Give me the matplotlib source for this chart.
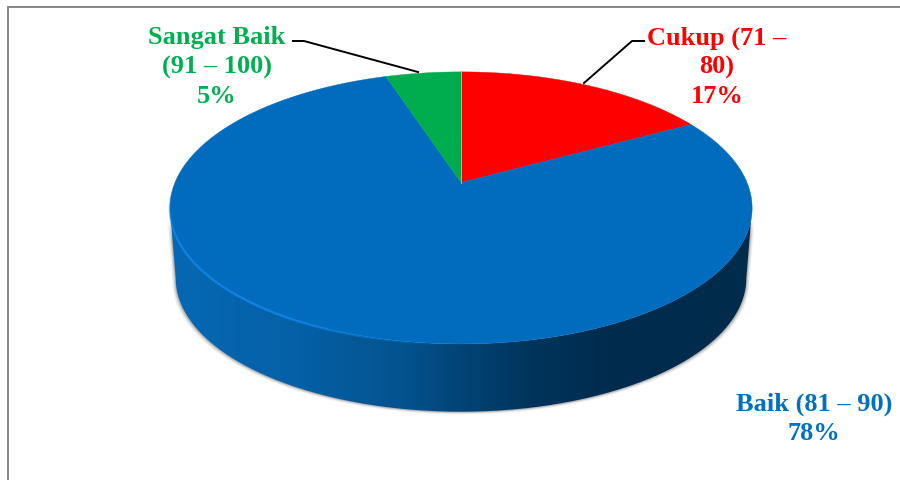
import numpy as np
import matplotlib
matplotlib.use("Agg")
import matplotlib.pyplot as plt
from matplotlib.colors import LinearSegmentedColormap
from matplotlib.patches import PathPatch, Polygon
from matplotlib.path import Path
from matplotlib.collections import LineCollection

# Share of each grade, clockwise from twelve o'clock
categories = ["Cukup (71 –\n80)", "Baik (81 – 90)", "Sangat Baik\n(91 – 100)"]
percent = [17, 78, 5]
slice_colors = ["#FF0000", "#016CBD", "#00AD4E"]
label_colors = ["#FF0000", "#0070C0", "#00B050"]

W, H = 900, 481
fig = plt.figure(figsize=(W / 100, H / 100), dpi=100, facecolor="white")
ax = fig.add_axes([0, 0, 1, 1])
ax.set_xlim(0, W)
ax.set_ylim(H, 0)
ax.axis("off")

# Perspective view of the pie's disc, in pixel space
CX, CY_APEX = 461.0, 183.5
PERSP = 0.1868
SCALE_X = 286.0
SCALE_Y = -97.0
RIM_MID_Y = 209.0
WALL_SHRINK = 0.98
WALL_DROP = 70.5


def top_rim(theta_deg):
    t = np.radians(theta_deg)
    u, v = np.sin(t), np.cos(t)
    d = 1 + PERSP * v
    return CX + SCALE_X * u / d, (CY_APEX + SCALE_Y * v) / d


def bottom_rim(theta_deg):
    x, y = top_rim(theta_deg)
    return CX + WALL_SHRINK * (x - CX), RIM_MID_Y + WALL_SHRINK * (y - RIM_MID_Y) + WALL_DROP


# Wall outline between the widest points of the disc
sweep_all = np.linspace(0, 360, 1441)
rim_x = top_rim(sweep_all)[0]
right_edge = sweep_all[np.argmax(rim_x)]
left_edge = sweep_all[np.argmin(rim_x)]
front = np.linspace(right_edge, left_edge, 300)
bx, by = bottom_rim(front)
tx, ty = top_rim(front)
wall_xy = np.r_[np.c_[bx, by], np.c_[tx, ty][::-1]]

# Drop shadow under the wall
for grow, alpha in [(3.5, 0.05), (2.6, 0.08), (1.8, 0.12), (1.0, 0.2)]:
    shadow = wall_xy + np.array([0, grow * 0.8])
    shadow[:, 0] = CX + (shadow[:, 0] - CX) * (1 + grow / 285)
    ax.add_patch(Polygon(shadow, closed=True, fc="#404040", ec="none", alpha=alpha, zorder=1))

# Side wall: a left-to-right darkening gradient clipped to the wall outline
wall_stops = [(0.00, "#0668B4"), (0.22, "#0560A6"), (0.40, "#04528E"),
              (0.50, "#024476"), (0.62, "#01345C"), (0.75, "#002C4E"), (1.00, "#002B4B")]
wall_cmap = LinearSegmentedColormap.from_list("wall", wall_stops)
x0, x1 = wall_xy[:, 0].min(), wall_xy[:, 0].max()
gradient = np.linspace(0, 1, 512).reshape(1, -1)
img = ax.imshow(gradient, cmap=wall_cmap, extent=[x0, x1, 430, 180], aspect="auto",
                interpolation="bilinear", zorder=2)
img.set_clip_path(PathPatch(Path(np.r_[wall_xy, wall_xy[:1]]), transform=ax.transData))
ax.set_xlim(0, W)
ax.set_ylim(H, 0)

# Top face of the pie, one wedge per category
start = 0.0
for value, color in zip(percent, slice_colors):
    sweep = value / sum(percent) * 360
    th = np.linspace(start, start + sweep, 240)
    rx, ry = top_rim(th)
    pts = np.r_[[[CX, CY_APEX]], np.c_[rx, ry]]
    ax.add_patch(Polygon(pts, closed=True, fc=color, ec=color, lw=0.3, zorder=3))
    start += sweep

# Thin divider where the last wedge meets the first
ax.plot([CX, CX], [CY_APEX, top_rim(0.0)[1]], color="#C8A8A0", lw=0.7, zorder=4)

# Light edge along the front-left rim, fading towards the centre
hl = np.linspace(182, 268, 160)
hx, hy = top_rim(hl)
hl_pts = np.c_[hx, hy + 0.6].reshape(-1, 1, 2)
segs = np.concatenate([hl_pts[:-1], hl_pts[1:]], axis=1)
hl_alpha = np.clip((hl[:-1] - 182) / 30, 0, 1) * np.clip((268 - hl[:-1]) / 25, 0, 1)
hl_colors = np.c_[np.tile([0.05, 0.52, 0.90], (len(segs), 1)), hl_alpha]
ax.add_collection(LineCollection(segs, colors=hl_colors, linewidths=1.6, zorder=5))

# Leader lines for the two upper labels
ax.plot([293, 304, 418], [42, 42, 73], color="black", lw=1.4, zorder=6, solid_joinstyle="round")
ax.plot([584, 632, 644], [84, 42, 42], color="black", lw=1.4, zorder=6, solid_joinstyle="round")

# Data labels
font = dict(family="Liberation Serif", fontweight="bold", fontsize=19, ha="center",
            va="center", linespacing=1.33, zorder=7)
label_pos = [(717, 67), (814, 419), (217, 67)]
for name, value, color, (lx, ly) in zip(categories, percent, label_colors, label_pos):
    ax.text(lx, ly, f"{name}\n{value}%", color=color, **font)

# Chart-area border, running off the right and bottom edges
ax.plot([8.2, 8.2, W], [H, 8.2, 8.2], color="#868686", lw=1.4, zorder=8,
        solid_joinstyle="miter", clip_on=False)

fig.savefig("out.png", dpi=100, facecolor="white")
